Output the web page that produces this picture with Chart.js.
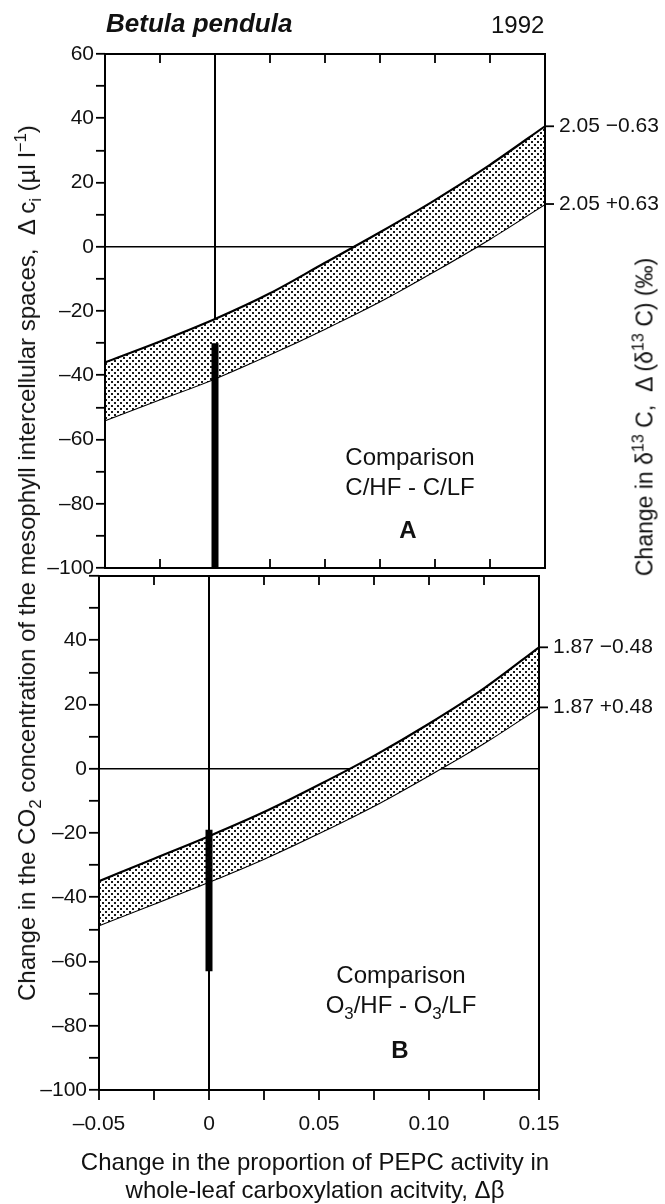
<!DOCTYPE html>
<html>
<head>
<meta charset="utf-8">
<script src="https://cdn.jsdelivr.net/npm/chart.js@4.4.1/dist/chart.umd.min.js"></script>
<style>
  html, body { margin: 0; padding: 0; background: #fff; }
  #page { position: relative; width: 665px; height: 1204px; overflow: hidden;
          font-family: "Liberation Sans", Arial, sans-serif; color: #111; }
  canvas { position: absolute; left: 0; }
  .txt { position: absolute; white-space: nowrap; line-height: 1; }
  .ctr { transform: translate(-50%, -50%); }
  .rot { transform: translate(-50%, -50%) rotate(-90deg); }
  sub, sup { font-size: 70%; line-height: 0; }
</style>
</head>
<body>
<div id="page">
  <canvas id="panelA"></canvas>
  <canvas id="panelB"></canvas>

  <div class="txt" style="left:106px; top:10px; font-size:26px; font-weight:bold; font-style:italic;">Betula pendula</div>
  <div class="txt" style="left:491px; top:13px; font-size:24px;">1992</div>

  <div class="txt rot" style="left:27px; top:563px; font-size:24px;">Change in the CO<sub>2</sub> concentration of the mesophyll intercellular spaces,&nbsp; Δ c<sub>i</sub> (µl l<sup>−1</sup>)</div>
  <div class="txt rot" style="left:645px; top:417px; font-size:23px;">Change in δ<sup>13</sup> C,&nbsp; Δ (δ<sup>13</sup> C) (‰)</div>

  <div class="txt ctr" style="left:315px; top:1162px; font-size:24px;">Change in the proportion of PEPC activity in</div>
  <div class="txt ctr" style="left:315px; top:1190px; font-size:24px;">whole-leaf carboxylation acitvity, Δβ</div>

  <div class="txt ctr" style="left:410px; top:457px; font-size:24px;">Comparison</div>
  <div class="txt ctr" style="left:410px; top:487px; font-size:24px;">C/HF - C/LF</div>
  <div class="txt ctr" style="left:408px; top:530px; font-size:24px; font-weight:bold;">A</div>

  <div class="txt ctr" style="left:401px; top:975px; font-size:24px;">Comparison</div>
  <div class="txt ctr" style="left:401px; top:1005px; font-size:24px;">O<sub>3</sub>/HF - O<sub>3</sub>/LF</div>
  <div class="txt ctr" style="left:400px; top:1050px; font-size:24px; font-weight:bold;">B</div>
</div>

<script>
// valeurs
const xValues = [-0.05, -0.025, 0, 0.025, 0.05, 0.075, 0.1, 0.125, 0.15];

const upperA = [-36, -29.5, -22.5, -14.5, -5, 4.5, 14.5, 25.5, 37.5];
const lowerA = [-54, -47.5, -41, -33.5, -25.5, -17, -7.5, 2.5, 13.3];
const upperB = [-35, -28, -21, -13.5, -5, 4, 14, 25, 37.8];
const lowerB = [-48.7, -42, -35.2, -28, -20, -11.5, -2, 8, 19.1];

// barre verticale en x = 0 (haut, bas)
const barA = [-30, -100];
const barB = [-19, -63];

const rightLabelsA = ['2.05 \u22120.63', '2.05 +0.63'];
const rightLabelsB = ['1.87 \u22120.48', '1.87 +0.48'];

const yTicksA = [60, 40, 20, 0, -20, -40, -60, -80, -100];
const yTicksB = [40, 20, 0, -20, -40, -60, -80, -100];
const xTickValues = [-0.05, 0, 0.05, 0.1, 0.15];
const xTickLabels = ['\u20130.05', '0', '0.05', '0.10', '0.15'];
const xMinorStep = 0.025;

Chart.defaults.font.family = '"Liberation Sans", Arial, sans-serif';
Chart.defaults.font.size = 21;
Chart.defaults.color = '#111';

// motif pointillé pour la bande
function stipple() {
    const c = document.createElement('canvas');
    c.width = 6; c.height = 6;
    const g = c.getContext('2d');
    g.fillStyle = '#fff';
    g.fillRect(0, 0, 6, 6);
    g.fillStyle = '#1a1a1a';
    g.fillRect(0, 0, 2, 2);
    g.fillRect(3, 3, 2, 2);
    return g.createPattern(c, 'repeat');
}

function fmtY(v) {
    return v < 0 ? '\u2013' + Math.abs(v) : String(v);
}

function pts(ys) {
    return xValues.map((x, i) => ({ x: x, y: ys[i] }));
}

// cadre, petits traits intérieurs, étiquettes à droite
const framePlugin = {
    id: 'frame',
    afterDatasetsDraw(chart, args, opts) {
        const ctx = chart.ctx;
        const a = chart.chartArea;
        const xs = chart.scales.x;
        const ys = chart.scales.y;
        ctx.save();
        ctx.strokeStyle = '#000';
        ctx.lineWidth = 2;
        ctx.strokeRect(a.left, a.top, a.right - a.left, a.bottom - a.top);

        ctx.lineWidth = 1.8;
        for (let v = xValues[0] + xMinorStep; v < xValues[xValues.length - 1] - 1e-9; v += xMinorStep) {
            const px = xs.getPixelForValue(v);
            ctx.beginPath();
            if (opts.topTicks) { ctx.moveTo(px, a.top); ctx.lineTo(px, a.top + 9); }
            if (opts.bottomTicks) { ctx.moveTo(px, a.bottom); ctx.lineTo(px, a.bottom - 9); }
            ctx.stroke();
        }

        ctx.font = '21px "Liberation Sans", Arial, sans-serif';
        ctx.fillStyle = '#111';
        ctx.textBaseline = 'middle';
        const ends = [opts.upper[opts.upper.length - 1], opts.lower[opts.lower.length - 1]];
        ends.forEach((v, i) => {
            const py = ys.getPixelForValue(v);
            ctx.beginPath();
            ctx.moveTo(a.right, py);
            ctx.lineTo(a.right + 9, py);
            ctx.stroke();
            ctx.fillText(opts.labels[i], a.right + 14, py);
        });
        ctx.restore();
    }
};

function makePanel(id, cfg) {
    const el = document.getElementById(id);
    el.style.top = cfg.top + 'px';
    el.style.width = '665px';
    el.style.height = cfg.height + 'px';
    el.width = 665;
    el.height = cfg.height;

    const pattern = stipple();
    return new Chart(el, {
        type: 'line',
        data: {
            datasets: [
                // la barre d'abord : dessinée par-dessus la bande
                { data: [{ x: 0, y: cfg.bar[0] }, { x: 0, y: cfg.bar[1] }], borderColor: '#000',
                  borderWidth: 7, fill: false, borderCapStyle: 'butt' },
                { data: pts(cfg.upper), borderColor: '#000', borderWidth: 2.2, fill: '+1',
                  backgroundColor: pattern, cubicInterpolationMode: 'monotone' },
                { data: pts(cfg.lower), borderColor: '#000', borderWidth: 2.2, fill: false,
                  cubicInterpolationMode: 'monotone' }
            ]
        },
        options: {
            responsive: false,
            animation: false,
            events: [],
            layout: { padding: cfg.padding },
            elements: { point: { radius: 0 } },
            plugins: {
                legend: { display: false },
                tooltip: { enabled: false },
                frame: { topTicks: true, bottomTicks: cfg.bottomInside, upper: cfg.upper,
                         lower: cfg.lower, labels: cfg.labels }
            },
            scales: {
                x: {
                    type: 'linear',
                    min: -0.05,
                    max: 0.15,
                    afterFit: s => { s.height = cfg.xHeight; },
                    border: { display: false },
                    grid: {
                        drawTicks: cfg.xLabels,
                        tickLength: 10,
                        tickWidth: 1.8,
                        tickColor: '#000',
                        lineWidth: 2,
                        color: c => (c.tick && Math.abs(c.tick.value) < 1e-9) ? '#000' : 'rgba(0,0,0,0)'
                    },
                    ticks: {
                        display: cfg.xLabels,
                        stepSize: xMinorStep,
                        autoSkip: false,
                        maxRotation: 0,
                        padding: 12,
                        callback: v => {
                            const i = xTickValues.findIndex(t => Math.abs(t - v) < 1e-9);
                            return i >= 0 ? xTickLabels[i] : '';
                        }
                    }
                },
                y: {
                    min: -100,
                    max: 60,
                    afterFit: s => { s.width = cfg.yWidth; },
                    border: { display: false },
                    grid: {
                        drawTicks: true,
                        tickLength: cfg.tickLen,
                        tickWidth: 1.8,
                        tickColor: '#000',
                        lineWidth: 1.6,
                        color: c => (c.tick && c.tick.value === 0) ? '#000' : 'rgba(0,0,0,0)'
                    },
                    ticks: {
                        stepSize: 10,
                        autoSkip: false,
                        padding: 2,
                        callback: v => cfg.yTicks.includes(v) ? fmtY(v) : ''
                    }
                }
            }
        },
        plugins: [framePlugin]
    });
}

makePanel('panelA', {
    top: 0, height: 600,
    padding: { top: 54, left: 0, right: 120, bottom: 32 },
    yWidth: 105, xHeight: 0, xLabels: false, tickLen: 9, bottomInside: true,
    upper: upperA, lower: lowerA, bar: barA, labels: rightLabelsA, yTicks: yTicksA
});

makePanel('panelB', {
    top: 560, height: 644,
    padding: { top: 16, left: 0, right: 126, bottom: 54 },
    yWidth: 99, xHeight: 60, xLabels: true, tickLen: 10, bottomInside: false,
    upper: upperB, lower: lowerB, bar: barB, labels: rightLabelsB, yTicks: yTicksB
});
</script>
</body>
</html>
